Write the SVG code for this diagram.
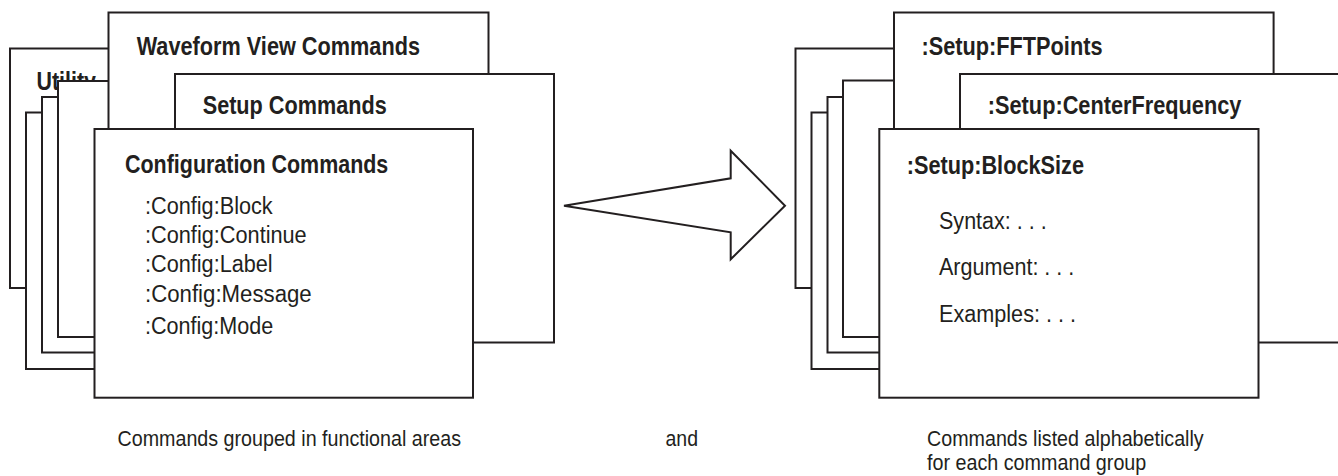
<svg xmlns="http://www.w3.org/2000/svg" width="1338" height="476" viewBox="0 0 1338 476">
<style>
.box{fill:#fff;stroke:#231f20;stroke-width:2}
.h{font-family:"Liberation Sans",Arial,sans-serif;font-weight:bold;font-size:26px;fill:#231f20}
.t{font-family:"Liberation Sans",Arial,sans-serif;font-size:23.5px;fill:#231f20}
.c{font-family:"Liberation Sans",Arial,sans-serif;font-size:21.5px;fill:#231f20}
.arrow{fill:#fff;stroke:#231f20;stroke-width:2;stroke-linejoin:miter}
</style>
<rect width="1338" height="476" fill="#fff"/>
<g id="left-stack">
  <g id="utility"><rect class="box" x="10" y="48.5" width="290" height="239.5"/><text class="h" x="36.5" y="89.5" textLength="59.5" lengthAdjust="spacingAndGlyphs">Utility</text></g>
  <g id="left-back-2"><rect class="box" x="26" y="112.5" width="274" height="256.5"/></g>
  <g id="left-back-3"><rect class="box" x="42" y="97" width="258" height="255.5"/></g>
  <g id="left-back-4"><rect class="box" x="58" y="81" width="242" height="256"/></g>
  <g id="waveform"><rect class="box" x="108.5" y="12.5" width="380" height="287.5"/><text class="h" x="136.7" y="55" textLength="283.3" lengthAdjust="spacingAndGlyphs">Waveform View Commands</text></g>
  <g id="setup"><rect class="box" x="175" y="74" width="379" height="268.5"/><text class="h" x="202.7" y="113.5" textLength="184" lengthAdjust="spacingAndGlyphs">Setup Commands</text></g>
  <g id="config"><rect class="box" x="94.5" y="129" width="378.5" height="268.7"/>
    <text class="h" x="125" y="172.7" textLength="263.3" lengthAdjust="spacingAndGlyphs">Configuration Commands</text>
    <text class="t" x="145" y="214" textLength="127.7" lengthAdjust="spacingAndGlyphs">:Config:Block</text>
    <text class="t" x="145" y="243" textLength="161.7" lengthAdjust="spacingAndGlyphs">:Config:Continue</text>
    <text class="t" x="145" y="272" textLength="127.7" lengthAdjust="spacingAndGlyphs">:Config:Label</text>
    <text class="t" x="145" y="301.5" textLength="166.7" lengthAdjust="spacingAndGlyphs">:Config:Message</text>
    <text class="t" x="145" y="334" textLength="128.3" lengthAdjust="spacingAndGlyphs">:Config:Mode</text>
  </g>
</g>
<g id="connectors">
  <polygon class="arrow" points="564,205.7 730.7,178.3 730.7,150.7 785,205.7 730.7,259.3 730.7,232.3"/>
</g>
<g id="right-stack">
  <g id="right-back-1"><rect class="box" x="795.5" y="48.5" width="290" height="239.5"/></g>
  <g id="right-back-2"><rect class="box" x="811.5" y="112.5" width="274" height="256.5"/></g>
  <g id="right-back-3"><rect class="box" x="827.5" y="97" width="258" height="255.5"/></g>
  <g id="right-back-4"><rect class="box" x="843" y="80.5" width="242" height="256.5"/></g>
  <g id="fftpoints"><rect class="box" x="894" y="12.5" width="379.6" height="287.5"/><text class="h" x="921.5" y="55" textLength="181" lengthAdjust="spacingAndGlyphs">:Setup:FFTPoints</text></g>
  <g id="centerfrequency"><rect class="box" x="960" y="74" width="382" height="268.5"/><text class="h" x="987.8" y="114" textLength="253.6" lengthAdjust="spacingAndGlyphs">:Setup:CenterFrequency</text></g>
  <g id="blocksize"><rect class="box" x="879.3" y="129" width="379.2" height="268.7"/>
    <text class="h" x="906.7" y="173.5" textLength="177.3" lengthAdjust="spacingAndGlyphs">:Setup:BlockSize</text>
    <text class="t" x="939" y="229" textLength="107.7" lengthAdjust="spacingAndGlyphs">Syntax: . . .</text>
    <text class="t" x="939" y="275" textLength="135.3" lengthAdjust="spacingAndGlyphs">Argument: . . .</text>
    <text class="t" x="939" y="321.7" textLength="137" lengthAdjust="spacingAndGlyphs">Examples: . . .</text>
  </g>
</g>
<g id="captions">
  <text class="c" x="117.5" y="446" textLength="343.5" lengthAdjust="spacingAndGlyphs">Commands grouped in functional areas</text>
  <text class="c" x="665.5" y="446" textLength="32.5" lengthAdjust="spacingAndGlyphs">and</text>
  <text class="c" x="927" y="446" textLength="276.7" lengthAdjust="spacingAndGlyphs">Commands listed alphabetically</text>
  <text class="c" x="927" y="470" textLength="219.3" lengthAdjust="spacingAndGlyphs">for each command group</text>
</g>
</svg>
